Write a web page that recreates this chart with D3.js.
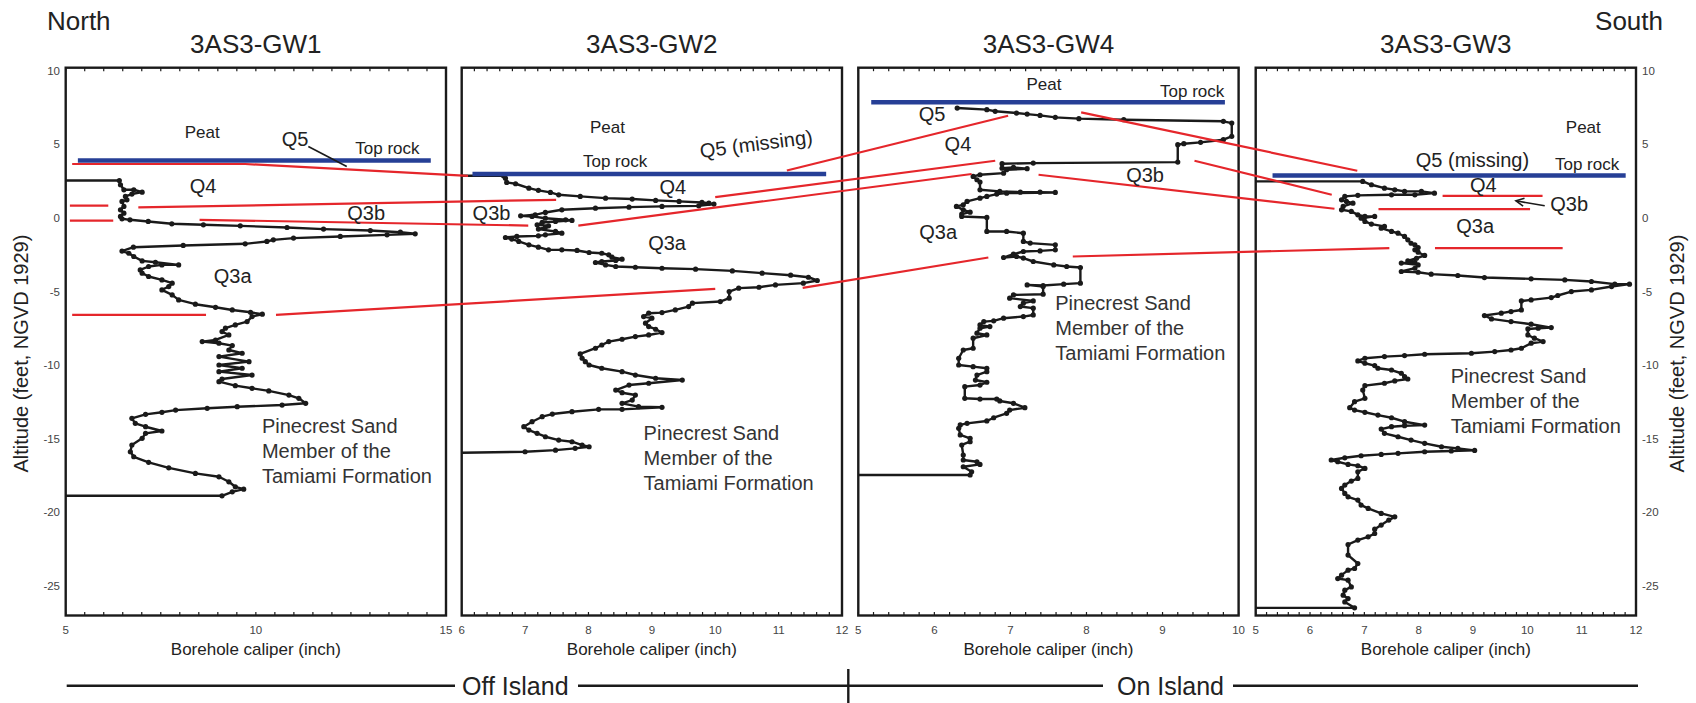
<!DOCTYPE html>
<html>
<head>
<meta charset="utf-8">
<script src="https://cdn.jsdelivr.net/npm/d3@7"></script>
<style>
  body { margin: 0; background: #fff; }
  svg { display: block; }
  text { font-family: "Liberation Sans", Arial, Helvetica, sans-serif; }
</style>
</head>
<body>
<svg id="chart" width="1696" height="703"></svg>
<script>
// Wells, north to south
const wells = ["3AS3-GW1", "3AS3-GW2", "3AS3-GW4", "3AS3-GW3"];
const caliperDomains = [[5, 15], [6, 12], [5, 10], [5, 12]];
const caliperTicks = [[5, 10, 15], [6, 7, 8, 9, 10, 11, 12], [5, 6, 7, 8, 9, 10], [5, 6, 7, 8, 9, 10, 11, 12]];
const caliperMinorStep = [0.5, 0.2, 0.2, 0.2];
const altitudeDomain = [-27, 10.2];
const altitudeTicks = [10, 5, 0, -5, -10, -15, -20, -25];

// Borehole caliper logs: [caliper (inch), altitude (feet)]
const gw1 = [[5.00,2.54],[6.41,2.54],[6.44,2.25],[6.53,1.91],[6.79,1.91],[7.01,1.75],[6.74,1.62],[6.57,1.46],[6.61,1.23],[6.48,1.12],[6.53,0.78],[6.44,0.55],[6.53,0.32],[6.44,0.10],[6.48,-0.06],[6.69,-0.13],[7.17,-0.24],[7.79,-0.40],[8.62,-0.47],[9.59,-0.54],[10.82,-0.65],[11.78,-0.76],[13.01,-0.86],[13.80,-0.97],[14.19,-1.08],[13.45,-1.15],[12.22,-1.26],[10.99,-1.37],[10.46,-1.49],[10.29,-1.60],[9.72,-1.76],[8.09,-1.87],[6.78,-1.99],[6.48,-2.25],[6.66,-2.40],[6.79,-2.62],[7.01,-2.92],[7.36,-3.01],[7.97,-3.19],[7.53,-3.19],[7.18,-3.30],[6.96,-3.53],[7.01,-3.75],[7.18,-3.98],[7.53,-4.21],[7.80,-4.43],[7.71,-4.66],[7.53,-4.89],[7.80,-5.23],[7.97,-5.57],[8.41,-5.86],[8.94,-6.07],[9.38,-6.25],[9.86,-6.41],[10.17,-6.54],[9.90,-6.70],[9.77,-7.04],[9.46,-7.27],[9.20,-7.49],[9.11,-7.72],[9.29,-7.95],[8.94,-8.29],[8.59,-8.40],[9.03,-8.51],[9.38,-8.67],[9.29,-8.97],[9.64,-9.19],[9.03,-9.42],[9.82,-9.76],[9.03,-9.99],[9.64,-10.21],[9.03,-10.44],[9.90,-10.67],[9.11,-10.94],[9.03,-11.12],[9.46,-11.39],[9.90,-11.57],[10.34,-11.75],[10.87,-12.03],[11.13,-12.25],[11.31,-12.59],[10.69,-12.71],[9.51,-12.82],[8.72,-12.93],[7.89,-13.05],[7.53,-13.20],[7.10,-13.34],[6.74,-13.61],[6.83,-13.95],[7.10,-14.18],[7.53,-14.47],[7.10,-14.63],[7.01,-14.97],[6.74,-15.42],[6.70,-15.88],[6.79,-16.22],[7.18,-16.60],[7.71,-16.97],[8.41,-17.35],[9.03,-17.58],[9.29,-17.92],[9.46,-18.26],[9.68,-18.42],[9.38,-18.60],[9.11,-18.87],[5.00,-18.87]];

const gw2 = [[6.00,2.86],[6.66,2.86],[6.69,2.70],[6.71,2.41],[6.85,2.32],[7.06,2.02],[7.21,1.87],[7.40,1.73],[7.53,1.57],[7.87,1.46],[8.27,1.34],[8.69,1.28],[9.06,1.19],[9.43,1.12],[9.79,1.05],[9.90,1.00],[9.98,0.94],[9.74,0.82],[9.16,0.78],[8.64,0.73],[8.11,0.66],[7.58,0.55],[7.32,0.37],[7.16,0.21],[6.93,0.14],[7.11,0.10],[7.32,-0.02],[7.64,-0.13],[7.74,-0.17],[7.48,-0.24],[7.27,-0.31],[7.19,-0.47],[7.37,-0.54],[7.32,-0.63],[7.21,-0.76],[7.48,-0.92],[7.58,-1.04],[7.32,-1.15],[7.21,-1.22],[6.87,-1.26],[6.69,-1.33],[6.79,-1.44],[6.90,-1.60],[7.06,-1.83],[7.21,-1.99],[7.37,-2.17],[7.58,-2.17],[7.82,-2.21],[8.01,-2.35],[8.21,-2.40],[8.32,-2.51],[8.37,-2.67],[8.53,-2.80],[8.43,-2.89],[8.21,-2.96],[8.11,-3.03],[8.27,-3.19],[8.43,-3.30],[8.74,-3.35],[9.16,-3.42],[9.69,-3.48],[10.27,-3.60],[10.74,-3.75],[11.19,-3.89],[11.47,-4.03],[11.61,-4.25],[11.39,-4.43],[10.95,-4.55],[10.69,-4.71],[10.37,-4.77],[10.22,-5.00],[10.22,-5.45],[10.08,-5.68],[9.64,-5.79],[9.58,-6.02],[9.37,-6.25],[9.16,-6.43],[8.95,-6.47],[8.87,-6.70],[9.00,-6.81],[8.90,-7.15],[8.95,-7.38],[9.06,-7.56],[9.16,-7.79],[8.95,-7.95],[8.74,-8.06],[8.53,-8.24],[8.32,-8.40],[8.21,-8.63],[8.11,-8.85],[7.87,-9.24],[7.90,-9.53],[7.95,-9.76],[8.01,-9.99],[8.21,-10.21],[8.53,-10.44],[8.74,-10.67],[9.06,-10.89],[9.48,-11.01],[8.95,-11.23],[8.64,-11.35],[8.43,-11.69],[8.53,-11.87],[8.74,-12.03],[8.69,-12.37],[8.53,-12.59],[8.79,-12.82],[9.16,-12.86],[8.53,-13.00],[8.16,-13.00],[7.74,-13.16],[7.43,-13.32],[7.27,-13.50],[7.11,-13.84],[6.98,-14.18],[7.06,-14.41],[7.19,-14.63],[7.32,-14.86],[7.53,-15.09],[7.74,-15.20],[7.90,-15.43],[8.01,-15.54],[7.79,-15.65],[7.48,-15.77],[7.00,-15.88],[6.00,-15.95]];

const gw4 = [[6.30,7.46],[6.69,7.35],[6.80,7.24],[7.08,7.12],[7.22,7.05],[7.39,6.96],[7.59,6.83],[7.90,6.74],[8.49,6.67],[9.80,6.56],[9.91,6.44],[9.91,5.54],[9.80,5.31],[9.50,5.13],[9.28,5.04],[9.20,4.97],[9.20,3.79],[7.30,3.72],[6.89,3.68],[6.89,3.38],[7.04,3.43],[7.22,3.34],[6.95,3.27],[6.91,3.04],[6.60,2.93],[6.51,2.82],[6.56,2.59],[6.60,2.43],[6.60,1.91],[6.86,1.80],[7.13,1.75],[7.39,1.75],[7.59,1.73],[6.95,1.68],[6.82,1.62],[6.69,1.46],[6.60,1.34],[6.43,1.12],[6.38,0.89],[6.29,0.78],[6.38,0.55],[6.47,0.39],[6.36,0.26],[6.36,0.10],[6.69,0.03],[6.69,-0.92],[6.95,-0.92],[7.17,-1.04],[7.17,-1.60],[7.26,-1.71],[7.59,-1.83],[7.59,-2.17],[7.39,-2.24],[7.17,-2.28],[7.04,-2.46],[6.91,-2.69],[7.08,-2.62],[7.17,-2.73],[7.30,-2.96],[7.57,-3.19],[7.74,-3.30],[7.92,-3.37],[7.92,-4.43],[7.70,-4.50],[7.43,-4.59],[7.22,-4.55],[7.43,-4.66],[7.43,-5.18],[7.04,-5.23],[6.99,-5.45],[7.30,-5.64],[7.17,-5.79],[7.13,-6.02],[7.30,-6.13],[7.30,-6.59],[7.17,-6.70],[6.91,-6.81],[6.78,-6.99],[6.65,-7.04],[6.60,-7.27],[6.73,-7.38],[6.60,-7.49],[6.56,-7.83],[6.69,-7.95],[6.51,-8.17],[6.51,-8.85],[6.38,-8.97],[6.32,-9.53],[6.32,-9.99],[6.51,-10.10],[6.69,-10.21],[6.69,-10.44],[6.56,-10.67],[6.54,-11.01],[6.69,-11.16],[6.60,-11.35],[6.40,-11.46],[6.40,-12.25],[6.60,-12.30],[6.82,-12.30],[6.86,-12.43],[7.04,-12.59],[7.19,-12.89],[6.99,-13.05],[6.95,-13.27],[6.78,-13.57],[6.69,-13.79],[6.43,-13.95],[6.34,-14.06],[6.32,-14.29],[6.34,-14.74],[6.47,-14.97],[6.47,-15.20],[6.36,-15.42],[6.38,-16.10],[6.38,-16.44],[6.56,-16.56],[6.60,-16.74],[6.38,-16.90],[6.49,-17.24],[6.47,-17.46],[5.00,-17.46]];

const gw3 = [[5.00,2.48],[6.97,2.48],[7.13,2.25],[7.37,2.02],[7.56,1.91],[7.74,1.80],[8.05,1.80],[8.29,1.68],[7.93,1.57],[7.50,1.57],[6.88,1.53],[6.64,1.46],[6.58,1.23],[6.67,1.12],[6.79,1.00],[6.61,0.78],[6.58,0.55],[6.76,0.44],[6.88,0.21],[7.01,0.10],[7.19,0.10],[6.94,-0.02],[7.01,-0.24],[7.13,-0.42],[7.37,-0.58],[7.31,-0.70],[7.50,-0.92],[7.62,-1.04],[7.74,-1.26],[7.80,-1.49],[7.86,-1.72],[7.93,-1.83],[7.99,-2.01],[7.93,-2.17],[7.99,-2.33],[8.11,-2.55],[7.96,-2.74],[7.80,-2.92],[7.93,-3.01],[7.68,-3.07],[7.99,-3.19],[7.93,-3.42],[7.68,-3.64],[7.99,-3.69],[8.23,-3.82],[8.72,-3.91],[9.21,-4.05],[10.07,-4.14],[10.69,-4.21],[11.18,-4.32],[11.61,-4.50],[11.88,-4.50],[11.55,-4.66],[11.18,-4.89],[10.81,-5.00],[10.56,-5.27],[10.44,-5.41],[10.07,-5.57],[9.89,-5.64],[9.89,-6.25],[9.70,-6.36],[9.52,-6.47],[9.21,-6.63],[9.34,-6.86],[9.70,-7.04],[10.07,-7.22],[10.44,-7.45],[10.20,-7.49],[10.01,-7.54],[10.01,-7.95],[10.13,-8.17],[10.29,-8.40],[10.07,-8.51],[9.89,-8.85],[9.70,-8.97],[9.40,-9.08],[8.97,-9.19],[8.11,-9.26],[7.74,-9.35],[7.37,-9.42],[7.01,-9.53],[6.88,-9.71],[7.01,-9.87],[7.19,-10.03],[7.25,-10.21],[7.50,-10.33],[7.68,-10.55],[7.74,-10.78],[7.80,-10.94],[7.56,-11.07],[7.37,-11.23],[7.01,-11.39],[6.97,-11.69],[7.01,-12.25],[6.82,-12.48],[6.73,-12.89],[6.82,-13.05],[7.01,-13.20],[7.25,-13.39],[7.50,-13.57],[7.74,-13.84],[8.11,-14.07],[7.74,-14.11],[7.50,-14.18],[7.31,-14.34],[7.37,-14.63],[7.62,-14.86],[7.86,-15.09],[8.11,-15.31],[8.42,-15.54],[8.72,-15.65],[9.03,-15.79],[8.60,-15.83],[8.11,-15.88],[7.62,-15.99],[7.31,-16.06],[6.94,-16.15],[6.64,-16.29],[6.39,-16.44],[6.51,-16.56],[6.70,-16.74],[6.88,-16.83],[7.01,-17.01],[6.88,-17.24],[6.88,-17.69],[6.76,-17.87],[6.64,-18.14],[6.58,-18.37],[6.64,-18.71],[6.70,-18.94],[6.88,-19.16],[6.94,-19.50],[7.07,-19.73],[7.31,-20.07],[7.56,-20.30],[7.45,-20.52],[7.31,-20.86],[7.19,-21.14],[7.19,-21.43],[7.07,-21.66],[6.88,-21.88],[6.70,-22.18],[6.70,-22.90],[6.88,-23.47],[6.82,-23.81],[6.70,-23.92],[6.58,-24.26],[6.51,-24.49],[6.70,-24.60],[6.76,-25.06],[6.64,-25.28],[6.61,-25.62],[6.70,-25.85],[6.64,-26.08],[6.82,-26.48],[5.00,-26.48]];

const logs = [gw1, gw2, gw4, gw3];

// Top of rock: [well, altitude, caliper from, caliper to]
const topRock = [[0, 3.90, 5.32, 14.60], [1, 2.98, 6.17, 11.75], [2, 7.85, 5.17, 9.82], [3, 2.88, 5.31, 11.81]];

// Unit boundaries traced between wells: each point is [well, caliper, altitude]
const boundaries = [
  [[0, 5.17, 3.66], [0, 9.72, 3.66], [1, 6.10, 2.86]],
  [[0, 5.11, 0.83], [0, 6.12, 0.83]],
  [[0, 6.91, 0.71], [1, 7.49, 1.23]],
  [[0, 5.11, -0.18], [0, 6.25, -0.18]],
  [[0, 8.52, -0.13], [1, 7.05, -0.52]],
  [[0, 5.17, -6.59], [0, 8.69, -6.59]],
  [[0, 10.53, -6.59], [1, 10.00, -4.82]],
  [[1, 11.13, 3.22], [2, 6.97, 6.94]],
  [[1, 10.00, 1.41], [2, 6.80, 3.88]],
  [[1, 7.84, -0.52], [2, 6.49, 2.98]],
  [[1, 11.38, -4.75], [2, 6.71, -2.69]],
  [[2, 7.93, 7.17], [3, 6.87, 3.20]],
  [[2, 9.42, 3.88], [3, 6.40, 1.57]],
  [[2, 7.37, 2.93], [3, 6.45, 0.62]],
  [[2, 7.82, -2.62], [3, 7.46, -2.05]],
  [[3, 8.44, 1.50], [3, 10.28, 1.50]],
  [[3, 7.26, 0.60], [3, 10.05, 0.60]],
  [[3, 8.30, -2.05], [3, 10.65, -2.05]]
];

// Unit labels: [well, caliper, altitude, text]
const unitLabels = [
  [0, 11.03, 4.85, "Q5"], [0, 8.61, 1.69, "Q4"], [0, 12.90, -0.13, "Q3b"], [0, 9.39, -4.43, "Q3a"],
  [1, 9.33, 1.62, "Q4"], [1, 6.47, -0.13, "Q3b"], [1, 9.24, -2.17, "Q3a"],
  [2, 5.97, 6.55, "Q5"], [2, 6.31, 4.51, "Q4"], [2, 8.77, 2.47, "Q3b"], [2, 6.05, -1.44, "Q3a"],
  [3, 9.19, 1.73, "Q4"], [3, 10.77, 0.44, "Q3b"], [3, 9.04, -1.03, "Q3a"]
];
const missingLabels = [[1, 10.66, 4.56, "Q5 (missing)"], [3, 8.99, 3.49, "Q5 (missing)"]];
const peatLabels = [[0, 8.59, 5.45], [1, 8.30, 5.76], [2, 7.44, 8.66], [3, 11.03, 5.76]];
const topRockLabels = [[0, 13.46, 4.34], [1, 8.42, 3.49], [2, 9.39, 8.21], [3, 11.10, 3.22]];
const formationLabels = [[0, 10.16, -14.63], [1, 8.87, -15.09], [2, 7.59, -6.25], [3, 8.59, -11.23]];
const formationText = ["Pinecrest Sand", "Member of the", "Tamiami Formation"];
// Leader from Q5 label to its boundary in GW1, arrow to the thin Q3b unit in GW3
const leader = [[0, 11.38, 4.85], [0, 12.39, 3.49]];
const arrow = [[3, 10.32, 0.82], [3, 9.79, 1.16]];

// ---- layout ----
const svg = d3.select("#chart");
const panelLeft = [65.7, 461.7, 858.3, 1255.7];
const panelWidth = 380.3;
const plotTop = 67.7, plotBottom = 615.5;
const RED = "#e5262b", BLUE = "#263f96", INK = "#1a1a1a";

const y = d3.scaleLinear().domain(altitudeDomain).range([plotBottom, plotTop]);
const xs = caliperDomains.map((d, i) => d3.scaleLinear().domain(d).range([panelLeft[i], panelLeft[i] + panelWidth]));
const pt = p => [xs[p[0]](p[1]), y(p[2])];

svg.append("rect").attr("width", 1696).attr("height", 703).attr("fill", "#fff");

// Frames, ticks and titles
wells.forEach((name, i) => {
  const x = xs[i];
  const g = svg.append("g");
  const cx = panelLeft[i] + panelWidth / 2;

  // minor ticks on top and bottom edges
  const [d0, d1] = caliperDomains[i];
  const step = caliperMinorStep[i];
  const minor = d3.range(Math.round((d1 - d0) / step) + 1).map(k => d0 + k * step);
  g.selectAll(".tb").data(minor).join("line")
    .attr("x1", d => x(d)).attr("x2", d => x(d))
    .attr("y1", plotBottom).attr("y2", plotBottom - 3.5)
    .attr("stroke", INK).attr("stroke-width", 1.2);
  g.selectAll(".tt").data(minor).join("line")
    .attr("x1", d => x(d)).attr("x2", d => x(d))
    .attr("y1", plotTop).attr("y2", plotTop + 3.5)
    .attr("stroke", INK).attr("stroke-width", 1.2);

  g.append("rect")
    .attr("x", panelLeft[i]).attr("y", plotTop)
    .attr("width", panelWidth).attr("height", plotBottom - plotTop)
    .attr("fill", "none").attr("stroke", INK).attr("stroke-width", 2.4);

  g.selectAll(".xl").data(caliperTicks[i]).join("text")
    .attr("x", d => x(d)).attr("y", 634)
    .attr("text-anchor", "middle").attr("font-size", 11.5).attr("fill", "#444")
    .text(d => d);

  g.append("text").attr("x", cx).attr("y", 655)
    .attr("text-anchor", "middle").attr("font-size", 17).attr("fill", "#222")
    .text("Borehole caliper (inch)");

  g.append("text").attr("x", cx).attr("y", 53)
    .attr("text-anchor", "middle").attr("font-size", 26).attr("fill", "#222")
    .text(name);
});

// Altitude axes on the outer panels
svg.append("g").selectAll("text").data(altitudeTicks).join("text")
  .attr("x", 60).attr("y", d => y(d)).attr("dy", "0.35em")
  .attr("text-anchor", "end").attr("font-size", 11.5).attr("fill", "#444").text(d => d);
svg.append("g").selectAll("text").data(altitudeTicks).join("text")
  .attr("x", 1642).attr("y", d => y(d)).attr("dy", "0.35em")
  .attr("text-anchor", "start").attr("font-size", 11.5).attr("fill", "#444").text(d => d);

const yMid = (y(altitudeDomain[0]) + y(altitudeDomain[1])) / 2 + 12;
[28, 1684].forEach(xp => {
  svg.append("text").attr("transform", `translate(${xp},${yMid}) rotate(-90)`)
    .attr("text-anchor", "middle").attr("font-size", 20).attr("fill", "#222")
    .text("Altitude (feet, NGVD 1929)");
});

svg.append("text").attr("x", 47).attr("y", 30).attr("font-size", 26).attr("fill", "#222").text("North");
svg.append("text").attr("x", 1663).attr("y", 30).attr("text-anchor", "end").attr("font-size", 26).attr("fill", "#222").text("South");

// Caliper logs
logs.forEach((log, i) => {
  const x = xs[i];
  const line = d3.line().x(d => x(d[0])).y(d => y(d[1]));
  svg.append("path").datum(log).attr("d", line)
    .attr("fill", "none").attr("stroke", INK).attr("stroke-width", 2.4).attr("stroke-linejoin", "round");
  svg.append("g").selectAll("circle")
    .data(log.filter(d => d[0] > caliperDomains[i][0]))
    .join("circle")
    .attr("cx", d => x(d[0])).attr("cy", d => y(d[1])).attr("r", 2.6).attr("fill", INK);
});

// Top of rock
svg.append("g").selectAll("line").data(topRock).join("line")
  .attr("x1", d => xs[d[0]](d[2])).attr("x2", d => xs[d[0]](d[3]))
  .attr("y1", d => y(d[1])).attr("y2", d => y(d[1]))
  .attr("stroke", BLUE).attr("stroke-width", 4.5);

// Unit boundaries
svg.append("g").selectAll("path").data(boundaries).join("path")
  .attr("d", d => d3.line()(d.map(pt)))
  .attr("fill", "none").attr("stroke", RED).attr("stroke-width", 2.2);

// Leader and arrow
svg.append("path").attr("d", d3.line()(leader.map(pt)))
  .attr("stroke", INK).attr("stroke-width", 1.6).attr("fill", "none");
svg.append("defs").append("marker")
  .attr("id", "head").attr("viewBox", "-10 -6 12 12").attr("markerWidth", 12).attr("markerHeight", 12)
  .attr("markerUnits", "userSpaceOnUse").attr("orient", "auto")
  .append("path").attr("d", "M-8,-4 L0,0 L-8,4").attr("fill", "none").attr("stroke", INK).attr("stroke-width", 1.6);
svg.append("path").attr("d", d3.line()(arrow.map(pt)))
  .attr("stroke", INK).attr("stroke-width", 1.6).attr("fill", "none").attr("marker-end", "url(#head)");

// Labels
svg.append("g").selectAll("text").data(unitLabels).join("text")
  .attr("x", d => xs[d[0]](d[1])).attr("y", d => y(d[2]))
  .attr("text-anchor", "middle").attr("font-size", 20).attr("fill", "#222").text(d => d[3]);

missingLabels.forEach(d => {
  const [px, py] = pt(d);
  svg.append("text")
    .attr("transform", `translate(${px},${py}) rotate(${d[0] === 1 ? -7.3 : 0})`)
    .attr("text-anchor", "middle").attr("font-size", 20).attr("fill", "#222").text(d[3]);
});

svg.append("g").selectAll("text").data(peatLabels).join("text")
  .attr("x", d => xs[d[0]](d[1])).attr("y", d => y(d[2]))
  .attr("text-anchor", "middle").attr("font-size", 17).attr("fill", "#222").text("Peat");

svg.append("g").selectAll("text").data(topRockLabels).join("text")
  .attr("x", d => xs[d[0]](d[1])).attr("y", d => y(d[2]))
  .attr("text-anchor", "middle").attr("font-size", 17).attr("fill", "#222").text("Top rock");

formationLabels.forEach(d => {
  const [px, py] = pt(d);
  const t = svg.append("text").attr("x", px).attr("y", py).attr("font-size", 20).attr("fill", "#333");
  formationText.forEach((s, k) => {
    t.append("tspan").attr("x", px).attr("dy", k === 0 ? 0 : 25).text(s);
  });
});

// Off Island / On Island banner
const banner = svg.append("g").attr("stroke", INK).attr("stroke-width", 2.4);
const bannerY = 685.7;
[[66.7, 455], [578, 848.3], [848.3, 1103], [1233, 1638]].forEach(s => {
  banner.append("line").attr("x1", s[0]).attr("x2", s[1]).attr("y1", bannerY).attr("y2", bannerY);
});
banner.append("line").attr("x1", 848.3).attr("x2", 848.3).attr("y1", 669).attr("y2", 703);
svg.append("text").attr("x", 462).attr("y", 695).attr("font-size", 25).attr("fill", "#222").text("Off Island");
svg.append("text").attr("x", 1117).attr("y", 695).attr("font-size", 25).attr("fill", "#222").text("On Island");
</script>
</body>
</html>
